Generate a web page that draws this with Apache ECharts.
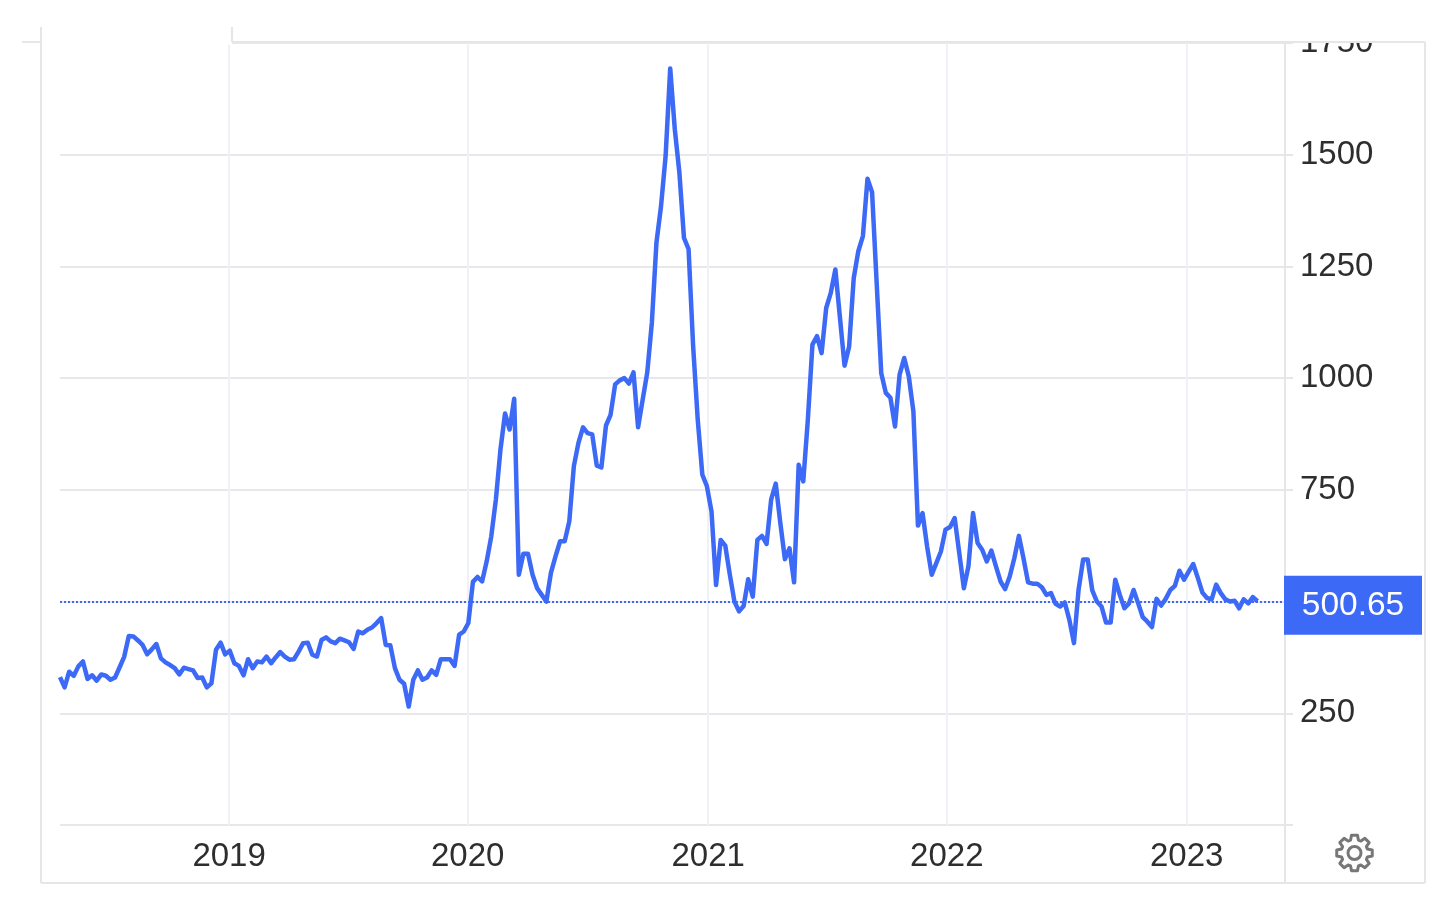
<!DOCTYPE html>
<html><head><meta charset="utf-8">
<style>html,body{margin:0;padding:0;background:#fff;overflow:hidden}#c{width:1446px;height:904px}</style>
<script src="https://cdn.jsdelivr.net/npm/echarts@6/dist/echarts.min.js"></script>
</head><body><div id="c"></div>
<script>
const firstWeek = '2018-04-16';
const yearTicks = ['2018-12-30','2019-12-29','2020-12-30','2021-12-29','2022-12-30'];
const lastPrice = 500.65;
const prices2018 = [331,308,343,334,355,366,327,335,323,337,334,325,330,353,377,423,422,413,403,382,393,405,373,364,358,351,337,352,349,346,329,330,308,317,392,408,382,390];
const prices2019 = [362,356,335,371,351,366,364,377,362,375,387,377,370,371,388,407,408,381,377,414,420,411,407,417,413,409,394,433,429,437,442,452,463,403,402,351,325,316,265,325,346,325,330,346,336,371,371,371,356,426,433,452,544];
const prices2020 = [555,545,590,646,728,840,921,885,954,560,607,607,560,530,515,500,564,601,635,635,679,803,855,890,877,874,804,800,894,918,986,995,1000,988,1013,890,952,1013,1124,1303,1385,1497,1693,1557,1460,1314,1289,1071,907,784,758,702,537,638];
const prices2021 = [625,560,500,478,490,550,511,638,647,629,728,764,676,595,619,543,806,769,907,1075,1094,1056,1157,1191,1243,1135,1028,1071,1224,1284,1318,1446,1416,1213,1011,967,956,892,1008,1045,1004,926,670,698,623,560,586,612,661,667,687];
const prices2022 = [609,530,579,698,631,616,590,614,579,545,528,556,597,647,597,543,540,540,532,515,519,495,489,498,459,407,526,594,594,525,500,489,453,453,549,515,485,496,526,496,465,455,443,506];
const prices2023 = [491,506,526,535,569,549,567,584,553,520,508,505,538,519,505,500,502,485,505,496,510,500.65];
const prices = [].concat(prices2018,prices2019,prices2020,prices2021,prices2022,prices2023);

const startMs = Date.parse(firstWeek+'T00:00:00Z');
const dayMs = 24*3600*1000;
const seriesData = prices.map((v,i)=>[startMs+i*7*dayMs,v]);
const yearMs = yearTicks.map(d=>Date.parse(d+'T00:00:00Z'));

const FONT='"Liberation Sans", Arial, sans-serif';
const frame='#e6e6e6';
function ln(x1,y1,x2,y2,c){return {type:'line',z:50,shape:{x1,y1,x2,y2},style:{stroke:c||frame,lineWidth:2}};}

// gear outline
const gearPts=[];
(function(){const cx=1354.5,cy=853,teeth=8,ro=18,ri=13.5;
 for(let t=0;t<teeth;t++){const a=t*2*Math.PI/teeth-Math.PI/2,s=2*Math.PI/teeth;
  [[-0.30,ri],[-0.17,ro],[0.17,ro],[0.30,ri]].forEach(p=>{const b=a+p[0]*s*1.25;gearPts.push([cx+p[1]*Math.cos(b),cy+p[1]*Math.sin(b)]);});}
})();

const option={
 animation:false,
 backgroundColor:'#ffffff',
 grid:{left:60,right:161,top:43,bottom:79,containLabel:false},
 xAxis:{type:'value',scale:true,min:Date.parse('2018-04-16T00:00:00Z'),max:Date.parse('2023-05-29T00:00:00Z'),
  axisLine:{show:false},
  axisTick:{show:false,customValues:yearMs},
  splitLine:{show:true,lineStyle:{color:'#eef1f6',width:2}},
  axisLabel:{customValues:yearMs,formatter:v=>String(new Date(v+10*dayMs).getUTCFullYear()),fontFamily:FONT,fontSize:33,color:'#2e2e2e',margin:15,hideOverlap:false}
 },
 yAxis:{type:'value',position:'right',min:0,max:1750,interval:250,
  axisLine:{show:true,lineStyle:{color:frame,width:2}},
  axisTick:{show:true,length:8,lineStyle:{color:frame,width:2}},
  splitLine:{show:true,lineStyle:{color:'#e8e8e8',width:2}},
  axisLabel:{margin:15,fontFamily:FONT,fontSize:33,color:'#2e2e2e',align:'left',verticalAlign:'middle',
   formatter:v=>v===0?'':String(v),padding:[0,0,6,0]}
 },
 series:[{type:'line',data:seriesData,showSymbol:false,smooth:false,z:5,clip:false,
  lineStyle:{color:'#3c69f5',width:4.5,join:'round'},
  markLine:{silent:true,symbol:'none',animation:false,z:6,
   lineStyle:{color:'#3c69f5',type:'dotted',width:2},
   label:{show:true,position:'end',distance:0,formatter:String(lastPrice),color:'#fff',fontFamily:FONT,fontSize:33.5,
    backgroundColor:'#3c69f5',width:138,height:59,lineHeight:59,align:'center',verticalAlign:'middle',offset:[68,4]},
   data:[{yAxis:lastPrice}]}
 }],
 graphic:[
  {type:'rect',z:40,shape:{x:1240,y:0,width:206,height:42},style:{fill:'#fff'}},
  {type:'rect',z:40,shape:{x:1286,y:826,width:160,height:78},style:{fill:'#fff'}},
  {type:'rect',z:40,shape:{x:0,y:0,width:232,height:45},style:{fill:'#fff'}},
  ln(41,27,41,883),ln(41,883,1425,883),ln(1425,42,1425,883),
  ln(232,42,1425,42),ln(232,27,232,42),ln(22,42,41,42),
  ln(1285,42,1285,575),ln(1285,636,1285,883),
  {type:'polygon',z:51,shape:{points:gearPts},style:{fill:'none',stroke:'#777',lineWidth:3,lineJoin:'round'}},
  {type:'circle',z:51,shape:{cx:1354.5,cy:853,r:6.5},style:{fill:'none',stroke:'#777',lineWidth:3}}
 ]
};
echarts.init(document.getElementById('c'),null,{renderer:'canvas'}).setOption(option);
</script></body></html>
